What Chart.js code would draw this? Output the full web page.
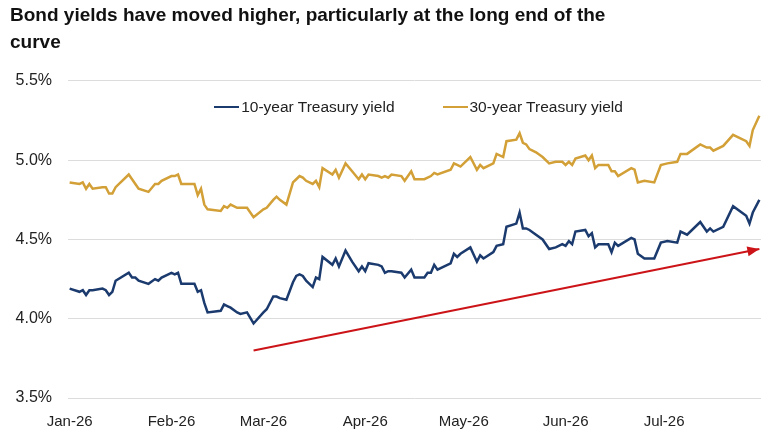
<!DOCTYPE html>
<html lang="en">
<head>
    <meta charset="UTF-8">
    <title>Bond yields</title>
    <style>
        html, body {
            margin: 0;
            padding: 0;
            background: #fff;
        }

        .wrap {
            position: relative;
            width: 776px;
            height: 432px;
        }

        #legend {
            position: absolute;
            display: flex;
            justify-content: center;
            align-items: center;
            font-family: 'Liberation Sans', Arial, sans-serif;
            font-size: 15.5px;
            color: #222;
            height: 20px;
        }

        #legend .item {
            display: flex;
            align-items: center;
            margin: 0 24px;
        }

        #legend .swatch {
            display: inline-block;
            width: 25px;
            height: 2.5px;
            margin-right: 2px;
        }
    </style>
</head>
<body>
    <div class="wrap">
        <canvas id="chart"></canvas>
        <div id="legend"></div>
    </div>

    <script src="https://cdn.jsdelivr.net/npm/chart.js"></script>
    <script>
        // days counted from 1 Jan 2026
        const days = [
            0, 3, 4, 5, 6, 7, 10, 11, 12, 13,
            14, 18, 19, 20, 21, 24, 26, 27, 28, 31,
            32, 33, 34, 38, 39, 40, 41, 42, 46, 47,
            48, 49, 51, 52, 54, 56, 59, 60, 62, 63,
            64, 66, 68, 69, 70, 71, 72, 74, 75, 76,
            77, 80, 81, 82, 84, 86, 88, 89, 90, 91,
            94, 95, 96, 97, 98, 101, 102, 104, 105, 108,
            109, 110, 111, 112, 116, 117, 118, 119, 122, 124,
            125, 126, 129, 130, 132, 133, 136, 137, 138, 139,
            140, 142, 144, 146, 148, 150, 151, 152, 153, 154,
            157, 158, 159, 160, 161, 164, 165, 166, 167, 171,
            172, 173, 175, 178, 180, 182, 185, 186, 188, 192,
            194, 195, 196, 199, 202, 206, 207, 208, 210
        ];

        const tenYear = [
            4.19, 4.17, 4.18, 4.15, 4.18, 4.18, 4.19, 4.18, 4.15, 4.17,
            4.24, 4.29, 4.26, 4.26, 4.24, 4.22, 4.25, 4.24, 4.26, 4.29,
            4.28, 4.29, 4.22, 4.22, 4.17, 4.18, 4.10, 4.04, 4.05, 4.09,
            4.08, 4.07, 4.04, 4.03, 4.04, 3.97, 4.04, 4.06, 4.14, 4.14,
            4.13, 4.12, 4.23, 4.27, 4.28, 4.27, 4.24, 4.20, 4.26, 4.25,
            4.39, 4.34, 4.38, 4.33, 4.43, 4.36, 4.30, 4.33, 4.30, 4.35,
            4.34, 4.33, 4.29, 4.30, 4.30, 4.29, 4.26, 4.31, 4.26, 4.26,
            4.29, 4.29, 4.34, 4.31, 4.35, 4.41, 4.39, 4.41, 4.45, 4.36,
            4.40, 4.38, 4.42, 4.46, 4.47, 4.58, 4.60, 4.67, 4.57, 4.57,
            4.56, 4.53, 4.50, 4.44, 4.45, 4.47, 4.46, 4.49, 4.47, 4.55,
            4.56, 4.52, 4.54, 4.45, 4.47, 4.47, 4.42, 4.48, 4.46, 4.51,
            4.50, 4.41, 4.38, 4.38, 4.48, 4.49, 4.48, 4.55, 4.53, 4.61,
            4.55, 4.57, 4.55, 4.58, 4.71, 4.65, 4.60, 4.67, 4.75
        ];

        const thirtyYear = [
            4.86, 4.85, 4.86, 4.82, 4.85, 4.82, 4.83, 4.83, 4.79, 4.79,
            4.83, 4.91, 4.88, 4.85, 4.82, 4.80, 4.85, 4.85, 4.87, 4.90,
            4.90, 4.91, 4.85, 4.85, 4.78, 4.82, 4.72, 4.69, 4.68, 4.71,
            4.70, 4.72, 4.70, 4.70, 4.70, 4.64, 4.69, 4.70, 4.75, 4.77,
            4.75, 4.72, 4.86, 4.88, 4.90, 4.89, 4.87, 4.85, 4.87, 4.83,
            4.95, 4.91, 4.94, 4.89, 4.98, 4.93, 4.88, 4.91, 4.88, 4.91,
            4.90, 4.89, 4.90, 4.89, 4.91, 4.90, 4.87, 4.93, 4.88, 4.88,
            4.89, 4.90, 4.92, 4.91, 4.94, 4.98, 4.97, 4.96, 5.02, 4.94,
            4.97, 4.95, 4.98, 5.04, 5.02, 5.12, 5.13, 5.17, 5.11, 5.10,
            5.07, 5.05, 5.02, 4.98, 4.99, 4.99, 4.97, 4.99, 4.97, 5.01,
            5.03, 5.00, 5.03, 4.95, 4.97, 4.97, 4.93, 4.93, 4.90, 4.95,
            4.94, 4.86, 4.87, 4.86, 4.97, 4.98, 4.99, 5.04, 5.04, 5.10,
            5.08, 5.08, 5.06, 5.09, 5.16, 5.12, 5.09, 5.19, 5.28
        ];

        // red trend arrow, start and end
        const trendDays = [56, 210];
        const trendValues = [3.80, 4.44];

        const monthStarts = [0, 31, 59, 90, 120, 151, 181];
        const monthLabels = ['Jan-26', 'Feb-26', 'Mar-26', 'Apr-26', 'May-26', 'Jun-26', 'Jul-26'];

        const seriesNames = ['10-year Treasury yield', '30-year Treasury yield'];
        const seriesColors = ['#1b3a6e', '#d2a037'];

        const toPoints = (xs, ys) => xs.map((x, i) => ({ x: x, y: ys[i] }));

        // arrow head at the end of the trend line
        const arrowHead = {
            id: 'arrowHead',
            afterDatasetsDraw(chart) {
                const pts = chart.getDatasetMeta(2).data;
                const a = pts[pts.length - 2];
                const b = pts[pts.length - 1];
                const ang = Math.atan2(b.y - a.y, b.x - a.x);
                const ctx = chart.ctx;
                ctx.save();
                ctx.translate(b.x, b.y);
                ctx.rotate(ang);
                ctx.beginPath();
                ctx.moveTo(0, 0);
                ctx.lineTo(-12, -5);
                ctx.lineTo(-12, 5);
                ctx.closePath();
                ctx.fillStyle = '#cc1418';
                ctx.fill();
                ctx.restore();
            }
        };

        // html legend, placed over the top of the plot area
        const htmlLegend = {
            id: 'htmlLegend',
            afterUpdate(chart) {
                const box = document.getElementById('legend');
                box.innerHTML = '';
                chart.data.datasets.slice(0, 2).forEach(ds => {
                    const item = document.createElement('span');
                    item.className = 'item';
                    const sw = document.createElement('span');
                    sw.className = 'swatch';
                    sw.style.background = ds.borderColor;
                    item.appendChild(sw);
                    item.appendChild(document.createTextNode(ds.label));
                    box.appendChild(item);
                });
                const area = chart.chartArea;
                box.style.left = (area.left + 4) + 'px';
                box.style.width = (area.right - area.left) + 'px';
                box.style.top = (area.top + 16) + 'px';
            }
        };

        const ctx = document.getElementById('chart').getContext('2d');

        new Chart(ctx, {
            type: 'line',
            data: {
                datasets: [
                    {
                        label: seriesNames[0],
                        data: toPoints(days, tenYear),
                        borderColor: seriesColors[0],
                        borderWidth: 2.5,
                        pointRadius: 0,
                        tension: 0
                    },
                    {
                        label: seriesNames[1],
                        data: toPoints(days, thirtyYear),
                        borderColor: seriesColors[1],
                        borderWidth: 2.5,
                        pointRadius: 0,
                        tension: 0
                    },
                    {
                        label: 'trend',
                        data: toPoints(trendDays, trendValues),
                        borderColor: '#cc1418',
                        borderWidth: 2,
                        pointRadius: 0,
                        tension: 0
                    }
                ]
            },
            options: {
                responsive: true,
                maintainAspectRatio: false,
                animation: false,
                layout: {
                    padding: { left: 10, right: 15, top: 0, bottom: 3 }
                },
                scales: {
                    x: {
                        type: 'linear',
                        min: -0.5,
                        max: 210.5,
                        grid: { display: false, drawTicks: false },
                        border: { display: false },
                        afterBuildTicks(scale) {
                            scale.ticks = monthStarts.map(v => ({ value: v }));
                        },
                        afterFit(axis) {
                            axis.height = 31;
                        },
                        ticks: {
                            autoSkip: false,
                            maxRotation: 0,
                            padding: 15,
                            color: '#222',
                            font: { family: 'Liberation Sans', size: 15 },
                            callback: value => monthLabels[monthStarts.indexOf(value)]
                        }
                    },
                    y: {
                        min: 3.5,
                        max: 5.5,
                        afterFit(axis) {
                            axis.width = 58;
                        },
                        grid: { color: '#dcdcdc', lineWidth: 1, drawTicks: false },
                        border: { display: false },
                        ticks: {
                            stepSize: 0.5,
                            padding: 16,
                            color: '#222',
                            font: { family: 'Liberation Sans', size: 16 },
                            callback: value => value.toFixed(1) + '%'
                        }
                    }
                },
                plugins: {
                    title: {
                        display: true,
                        align: 'start',
                        text: ['Bond yields have moved higher, particularly at the long end of the', 'curve'],
                        color: '#111',
                        font: { family: 'Liberation Sans', size: 19, weight: 'bold', lineHeight: 1.42 },
                        padding: { top: 2, bottom: 25 }
                    },
                    legend: { display: false },
                    tooltip: { enabled: false }
                }
            },
            plugins: [arrowHead, htmlLegend]
        });
    </script>
</body>
</html>
